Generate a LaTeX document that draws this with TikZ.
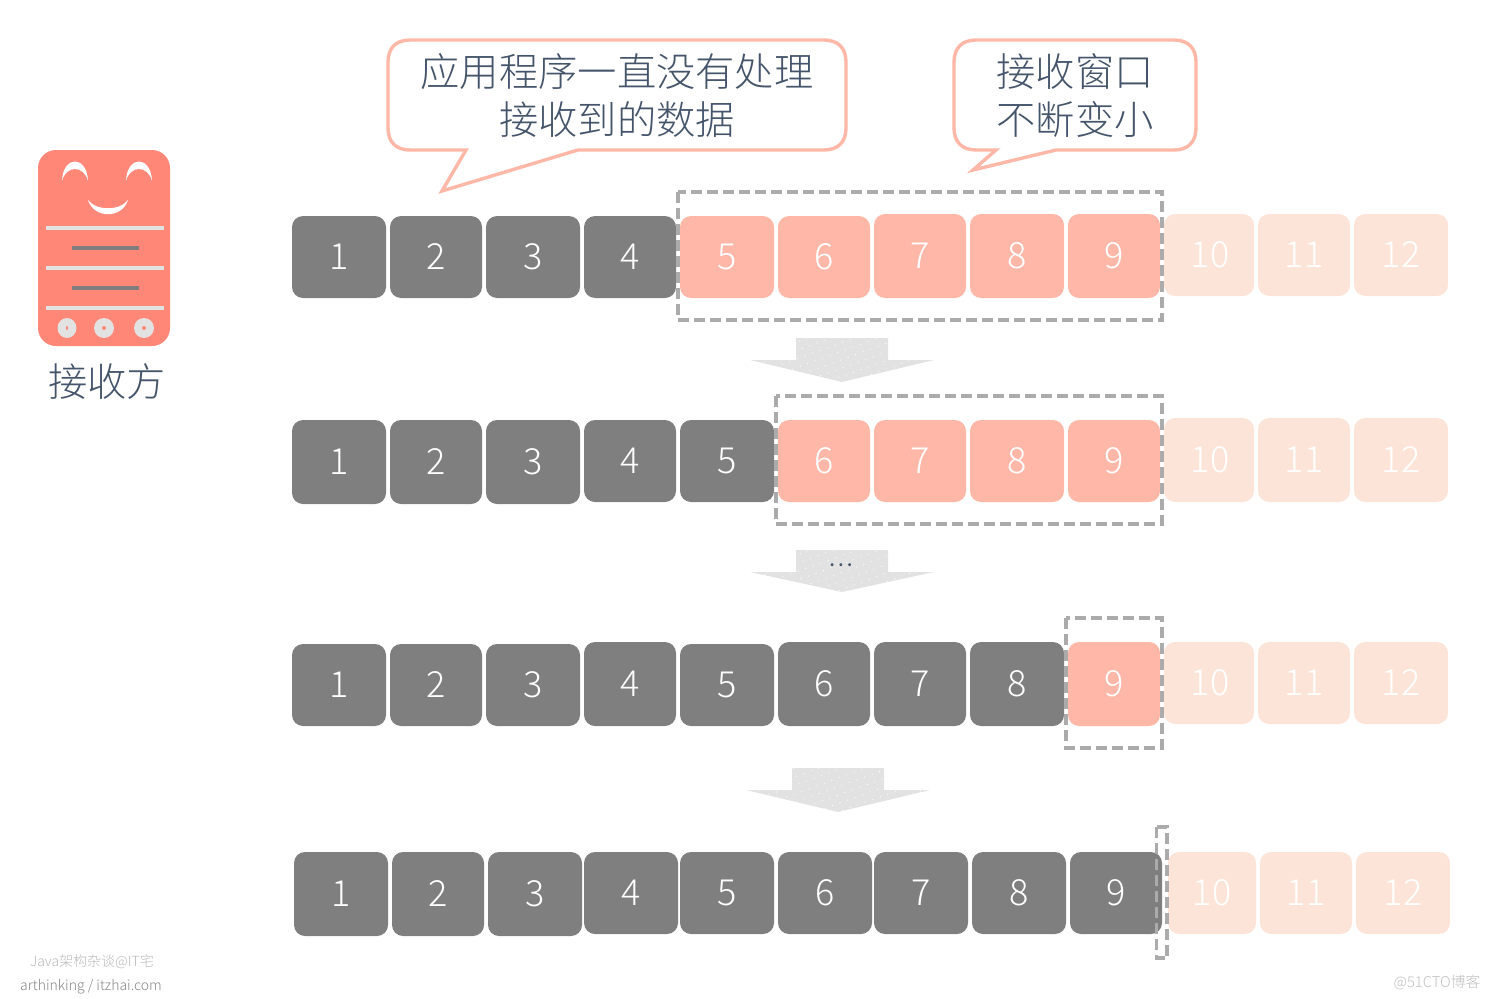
\documentclass[tikz,border=0pt]{standalone}
\usepackage{fontspec}
\setmainfont{Noto Sans CJK SC Light}
\newfontfamily\boldcjk{Noto Sans CJK SC Bold}
\usetikzlibrary{patterns.meta}
\definecolor{ink}{HTML}{44546A}
\definecolor{darkcell}{HTML}{7F7F7F}
\definecolor{salmon}{HTML}{FFB8A8}
\definecolor{palecell}{HTML}{FDE4D8}
\definecolor{dashgrey}{HTML}{ABABAB}
\definecolor{iconred}{HTML}{FF8777}
\definecolor{pale}{HTML}{E2E2E2}
\tikzset{
  cellbox/.style={rounded corners=11pt,inner sep=0pt,text=white,font=\fontsize{36}{36}\selectfont},
  dk/.style={cellbox,fill=darkcell},
  sa/.style={cellbox,fill=salmon},
  pl/.style={cellbox,fill=palecell},
  win/.style={draw=dashgrey,line width=3.6pt,dash pattern=on 11pt off 5pt},
  callout/.style={draw=salmon,line width=3.4pt,fill=white,line join=miter},
  saytext/.style={text=ink,align=center,font=\fontsize{39.3}{48}\selectfont,inner sep=0pt},
  bigarrow/.style={fill=pale,draw=none},
  dotted arrow/.style={pattern={Dots[distance=8pt,radius=0.6pt,angle=20]},pattern color=white,draw=none},
  mark text/.style={inner sep=0pt,text=#1}
}
\newcommand\cell[7]{\node[#6,minimum width={(#4-#2)*1pt},minimum height={(#5-#3)*1pt}] (#1) at ({(#2+#4)/2},{(#3+#5)/2}) {#7};}
\newcommand\downarrowshape[3]{%
  \path[bigarrow] (#1-46,#2) -- (#1+46,#2) -- (#1+46,#2+22) -- (#1+92,#2+22) -- (#1,#2+#3) -- (#1-92,#2+22) -- (#1-46,#2+22) -- cycle;
  \path[dotted arrow] (#1-46,#2) -- (#1+46,#2) -- (#1+46,#2+22) -- (#1+92,#2+22) -- (#1,#2+#3) -- (#1-92,#2+22) -- (#1-46,#2+22) -- cycle;}
\begin{document}
\begin{tikzpicture}[x=1pt,y=-1pt]
\useasboundingbox (0,0) rectangle (1490,998);
% receiver icon
\fill[iconred,rounded corners=18pt] (38,150) rectangle (170,346);
\fill[white] (62,181) .. controls (63,155) and (87,155) .. (88,181) .. controls (84,165) and (66,165) .. (62,181) -- cycle;
\fill[white] (126,181) .. controls (127,155) and (151,155) .. (152,181) .. controls (148,165) and (130,165) .. (126,181) -- cycle;
\fill[white] (88,200) .. controls (94,219) and (122,219) .. (128,200) .. controls (120,211) and (96,211) .. (88,200) -- cycle;
\fill[pale] (46,226) rectangle (164,230);
\fill[pale] (46,266) rectangle (164,270);
\fill[pale] (46,306) rectangle (164,310);
\fill[darkcell] (72,246) rectangle (139,250);
\fill[darkcell] (72,286) rectangle (139,290);
\fill[pale] (67,328) ellipse [x radius=9.5pt,y radius=10pt];
\fill[pale] (104,328) circle [radius=10pt];
\fill[pale] (144,328) circle [radius=10pt];
\fill[iconred] (67,328) ellipse [x radius=1pt,y radius=2pt];
\fill[iconred] (104,328) circle [radius=2pt];
\fill[iconred] (144,328) circle [radius=2pt];
\node[saytext] (receiver) at (107,381.5) {接收方};
% callouts
\draw[callout] (410,40) -- (824,40) .. controls (838,40) and (846,48) .. (846,62) -- (846,128) .. controls (846,142) and (838,150) .. (824,150) -- (578,150) -- (442,191) -- (466,150) -- (410,150) .. controls (396,150) and (388,142) .. (388,128) -- (388,62) .. controls (388,48) and (396,40) .. (410,40) -- cycle;
\draw[callout] (976,40) -- (1174,40) .. controls (1188,40) and (1196,48) .. (1196,62) -- (1196,128) .. controls (1196,142) and (1188,150) .. (1174,150) -- (1056,150) -- (973,170) -- (996,150) -- (976,150) .. controls (962,150) and (954,142) .. (954,128) -- (954,62) .. controls (954,48) and (962,40) .. (976,40) -- cycle;
\node[saytext] (sayone) at (617,95.5) {应用程序一直没有处理\\接收到的数据};
\node[saytext] (saytwo) at (1075,95.5) {接收窗口\\不断变小};
% row 1
\cell{a1}{292}{216}{386}{298}{dk}{1}
\cell{a2}{390}{216}{482}{298}{dk}{2}
\cell{a3}{486}{216}{580}{298}{dk}{3}
\cell{a4}{584}{216}{676}{298}{dk}{4}
\cell{a5}{680}{216}{774}{298}{sa}{5}
\cell{a6}{778}{216}{870}{298}{sa}{6}
\cell{a7}{874}{214}{966}{298}{sa}{7}
\cell{a8}{970}{214}{1064}{298}{sa}{8}
\cell{a9}{1068}{214}{1160}{298}{sa}{9}
\cell{a10}{1164}{214}{1254}{296}{pl}{\hspace{2pt}10}
\cell{a11}{1258}{214}{1350}{296}{pl}{11}
\cell{a12}{1354}{214}{1448}{296}{pl}{12}
\draw[win] (678,192) rectangle (1162,320);
% row 2
\cell{b1}{292}{420}{386}{504}{dk}{1}
\cell{b2}{390}{420}{482}{504}{dk}{2}
\cell{b3}{486}{420}{580}{504}{dk}{3}
\cell{b4}{584}{420}{676}{502}{dk}{4}
\cell{b5}{680}{420}{774}{502}{dk}{5}
\cell{b6}{778}{420}{870}{502}{sa}{6}
\cell{b7}{874}{420}{966}{502}{sa}{7}
\cell{b8}{970}{420}{1064}{502}{sa}{8}
\cell{b9}{1068}{420}{1160}{502}{sa}{9}
\cell{b10}{1164}{418}{1254}{502}{pl}{\hspace{2pt}10}
\cell{b11}{1258}{418}{1350}{502}{pl}{11}
\cell{b12}{1354}{418}{1448}{502}{pl}{12}
\draw[win] (776,396) rectangle (1162,524);
% row 3
\cell{c1}{292}{644}{386}{726}{dk}{1}
\cell{c2}{390}{644}{482}{726}{dk}{2}
\cell{c3}{486}{644}{580}{726}{dk}{3}
\cell{c4}{584}{642}{676}{726}{dk}{4}
\cell{c5}{680}{644}{774}{726}{dk}{5}
\cell{c6}{778}{642}{870}{726}{dk}{6}
\cell{c7}{874}{642}{966}{726}{dk}{7}
\cell{c8}{970}{642}{1064}{726}{dk}{8}
\cell{c9}{1068}{642}{1160}{726}{sa}{9}
\cell{c10}{1164}{642}{1254}{724}{pl}{\hspace{2pt}10}
\cell{c11}{1258}{642}{1350}{724}{pl}{11}
\cell{c12}{1354}{642}{1448}{724}{pl}{12}
\draw[win] (1066,618) rectangle (1162,748);
% row 4
\cell{d1}{294}{852}{388}{936}{dk}{1}
\cell{d2}{392}{852}{484}{936}{dk}{2}
\cell{d3}{488}{852}{582}{936}{dk}{3}
\cell{d4}{584}{852}{678}{934}{dk}{4}
\cell{d5}{680}{852}{774}{934}{dk}{5}
\cell{d6}{778}{852}{872}{934}{dk}{6}
\cell{d7}{874}{852}{968}{934}{dk}{7}
\cell{d8}{972}{852}{1066}{934}{dk}{8}
\cell{d9}{1070}{852}{1162}{934}{dk}{9}
\cell{d10}{1168}{852}{1256}{934}{pl}{10}
\cell{d11}{1260}{852}{1352}{934}{pl}{11}
\cell{d12}{1356}{852}{1450}{934}{pl}{12}
\draw[win] (1156.5,827) rectangle (1167,958);
% arrows between rows
\downarrowshape{842}{338}{44}
\downarrowshape{842}{550}{42}
\downarrowshape{838}{768}{44}
\node[mark text=ink,font=\boldcjk\fontsize{16}{16}\selectfont] (dots) at (841,565.5) {.\hspace{3.5pt}.\hspace{3.5pt}.};
% watermarks
\node[mark text=black!28,font=\fontsize{14}{15}\selectfont] (wmone) at (92,962) {Java架构杂谈@IT宅};
\node[mark text=black!48,font=\fontsize{14}{15}\selectfont] (wmtwo) at (91,987) {arthinking / itzhai.com};
\node[mark text=black!25,font=\fontsize{14.8}{15}\selectfont] (wmthree) at (1437,982) {@51CTO博客};
\end{tikzpicture}
\end{document}
